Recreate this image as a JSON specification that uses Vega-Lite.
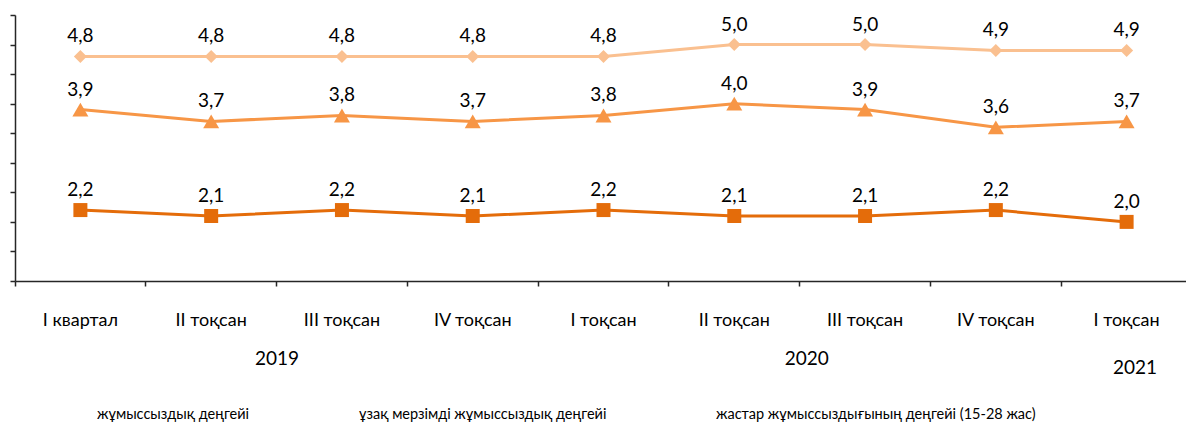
{
  "$schema": "https://vega.github.io/schema/vega-lite/v6.json",
  "width": 1177,
  "height": 266,
  "autosize": {"type": "none"},
  "padding": {"left": 15, "top": 15, "right": -6, "bottom": 144},
  "background": "white",
  "config": {
    "view": {"stroke": null},
    "font": "Lato"
  },
  "layer": [
    {
      "data": {
        "values": [
          {"key": "2019 I квартал", "series": "жұмыссыздық деңгейі", "value": 4.8, "label": "4,8"},
          {"key": "2019 I квартал", "series": "ұзақ мерзімді жұмыссыздық деңгейі", "value": 2.2, "label": "2,2"},
          {"key": "2019 I квартал", "series": "жастар жұмыссыздығының деңгейі (15-28 жас)", "value": 3.9, "label": "3,9"},
          {"key": "2019 II тоқсан", "series": "жұмыссыздық деңгейі", "value": 4.8, "label": "4,8"},
          {"key": "2019 II тоқсан", "series": "ұзақ мерзімді жұмыссыздық деңгейі", "value": 2.1, "label": "2,1"},
          {"key": "2019 II тоқсан", "series": "жастар жұмыссыздығының деңгейі (15-28 жас)", "value": 3.7, "label": "3,7"},
          {"key": "2019 III тоқсан", "series": "жұмыссыздық деңгейі", "value": 4.8, "label": "4,8"},
          {"key": "2019 III тоқсан", "series": "ұзақ мерзімді жұмыссыздық деңгейі", "value": 2.2, "label": "2,2"},
          {"key": "2019 III тоқсан", "series": "жастар жұмыссыздығының деңгейі (15-28 жас)", "value": 3.8, "label": "3,8"},
          {"key": "2019 IV тоқсан", "series": "жұмыссыздық деңгейі", "value": 4.8, "label": "4,8"},
          {"key": "2019 IV тоқсан", "series": "ұзақ мерзімді жұмыссыздық деңгейі", "value": 2.1, "label": "2,1"},
          {"key": "2019 IV тоқсан", "series": "жастар жұмыссыздығының деңгейі (15-28 жас)", "value": 3.7, "label": "3,7"},
          {"key": "2020 I тоқсан", "series": "жұмыссыздық деңгейі", "value": 4.8, "label": "4,8"},
          {"key": "2020 I тоқсан", "series": "ұзақ мерзімді жұмыссыздық деңгейі", "value": 2.2, "label": "2,2"},
          {"key": "2020 I тоқсан", "series": "жастар жұмыссыздығының деңгейі (15-28 жас)", "value": 3.8, "label": "3,8"},
          {"key": "2020 II тоқсан", "series": "жұмыссыздық деңгейі", "value": 5.0, "label": "5,0"},
          {"key": "2020 II тоқсан", "series": "ұзақ мерзімді жұмыссыздық деңгейі", "value": 2.1, "label": "2,1"},
          {"key": "2020 II тоқсан", "series": "жастар жұмыссыздығының деңгейі (15-28 жас)", "value": 4.0, "label": "4,0"},
          {"key": "2020 III тоқсан", "series": "жұмыссыздық деңгейі", "value": 5.0, "label": "5,0"},
          {"key": "2020 III тоқсан", "series": "ұзақ мерзімді жұмыссыздық деңгейі", "value": 2.1, "label": "2,1"},
          {"key": "2020 III тоқсан", "series": "жастар жұмыссыздығының деңгейі (15-28 жас)", "value": 3.9, "label": "3,9"},
          {"key": "2020 IV тоқсан", "series": "жұмыссыздық деңгейі", "value": 4.9, "label": "4,9"},
          {"key": "2020 IV тоқсан", "series": "ұзақ мерзімді жұмыссыздық деңгейі", "value": 2.2, "label": "2,2"},
          {"key": "2020 IV тоқсан", "series": "жастар жұмыссыздығының деңгейі (15-28 жас)", "value": 3.6, "label": "3,6"},
          {"key": "2021 I тоқсан", "series": "жұмыссыздық деңгейі", "value": 4.9, "label": "4,9"},
          {"key": "2021 I тоқсан", "series": "ұзақ мерзімді жұмыссыздық деңгейі", "value": 2.0, "label": "2,0"},
          {"key": "2021 I тоқсан", "series": "жастар жұмыссыздығының деңгейі (15-28 жас)", "value": 3.7, "label": "3,7"}
        ]
      },
      "encoding": {
        "x": {
          "field": "key", "type": "nominal", "sort": null,
          "scale": {"type": "band", "paddingInner": 0, "paddingOuter": 0},
          "axis": {
            "orient": "bottom",
            "title": null, "labelExpr": "slice(datum.value, 5)", "labelAngle": 0,
            "bandPosition": 0,
            "tickSize": 5, "tickWidth": 1.5, "tickColor": "#262626",
            "domainColor": "#262626", "domainWidth": 1.5, "grid": false,
            "labelFontSize": 18, "labelColor": "#000000", "labelFont": "Lato", "labelPadding": 25
          }
        },
        "y": {
          "field": "value", "type": "quantitative",
          "scale": {"domain": [1, 5.5], "nice": false, "zero": false},
          "axis": {
            "title": null, "labels": false, "grid": false,
            "values": [1, 1.5, 2, 2.5, 3, 3.5, 4, 4.5, 5, 5.5],
            "tickSize": 5, "tickWidth": 1.5, "tickColor": "#262626",
            "domainColor": "#262626", "domainWidth": 1.5
          }
        }
      },
      "layer": [
        {
          "mark": {"type": "point", "filled": true, "opacity": 0, "strokeWidth": 0},
          "encoding": {
            "color": {
              "field": "series", "type": "nominal",
              "scale": {
                "domain": ["жұмыссыздық деңгейі", "ұзақ мерзімді жұмыссыздық деңгейі", "жастар жұмыссыздығының деңгейі (15-28 жас)"],
                "range": ["#FAC090", "#E46C0A", "#F79646"]
              },
              "legend": {
                "title": null, "orient": "none", "legendX": 33, "legendY": 378,
                "direction": "horizontal", "padding": 0,
                "symbolSize": 1936, "symbolOpacity": 1, "symbolStrokeWidth": 0,
                "labelOffset": 5, "columnPadding": 60,
                "labelFont": "Lato", "labelFontSize": 14.5, "labelColor": "#000000", "labelLimit": 0
              }
            },
            "shape": {
              "field": "series", "type": "nominal",
              "scale": {
                "domain": ["жұмыссыздық деңгейі", "ұзақ мерзімді жұмыссыздық деңгейі", "жастар жұмыссыздығының деңгейі (15-28 жас)"],
                "range": [
                  "M-1,-0.07H1V0.07H-1Z M0,-0.2L0.2,0L0,0.2L-0.2,0Z",
                  "M-1,-0.07H1V0.07H-1Z M-0.2,-0.2H0.2V0.2H-0.2Z",
                  "M-1,-0.07H1V0.07H-1Z M0,-0.2L0.22,0.17H-0.22Z"
                ]
              }
            }
          }
        },
        {
          "mark": {"type": "line", "strokeWidth": 3},
          "encoding": {
            "stroke": {
              "field": "series", "type": "nominal", "legend": null,
              "scale": {
                "domain": ["жұмыссыздық деңгейі", "ұзақ мерзімді жұмыссыздық деңгейі", "жастар жұмыссыздығының деңгейі (15-28 жас)"],
                "range": ["#FAC090", "#E46C0A", "#F79646"]
              }
            }
          }
        },
        {
          "transform": [{"filter": {"field": "series", "equal": "жұмыссыздық деңгейі"}}],
          "mark": {"type": "point", "filled": true, "opacity": 1, "shape": "diamond", "size": 169, "color": "#FAC090"}
        },
        {
          "transform": [{"filter": {"field": "series", "equal": "ұзақ мерзімді жұмыссыздық деңгейі"}}],
          "mark": {"type": "point", "filled": true, "opacity": 1, "shape": "square", "size": 196, "color": "#E46C0A"}
        },
        {
          "transform": [{"filter": {"field": "series", "equal": "жастар жұмыссыздығының деңгейі (15-28 жас)"}}],
          "mark": {"type": "point", "filled": true, "opacity": 1, "shape": "triangle-up", "size": 256, "color": "#F79646"}
        },
        {
          "mark": {"type": "text", "dy": -20, "fontSize": 19, "font": "Lato", "color": "#000000"},
          "encoding": {
            "text": {"field": "label", "type": "nominal"}
          }
        }
      ]
    },
    {
      "data": {"values": [{"year": "2019", "pos": 2.0}, {"year": "2020", "pos": 6.05}, {"year": "2021", "pos": 8.56}]},
      "mark": {"type": "point", "opacity": 0},
      "encoding": {
        "x": {
          "field": "pos", "type": "quantitative",
          "scale": {"domain": [0, 9], "nice": false, "zero": false},
          "axis": {
            "orient": "bottom", "title": null, "values": [2.0, 6.05, 8.56],
            "labelExpr": "datum.value < 4 ? '2019' : datum.value < 8 ? '2020' : ['', '2021']",
            "domain": false, "ticks": false, "grid": false,
            "labelFontSize": 19, "labelColor": "#000000", "labelFont": "Lato",
            "labelPadding": 68, "labelLineHeight": 9, "labelFlush": false, "labelOverlap": false
          }
        }
      }
    }
  ],
  "resolve": {"scale": {"x": "independent"}}
}
